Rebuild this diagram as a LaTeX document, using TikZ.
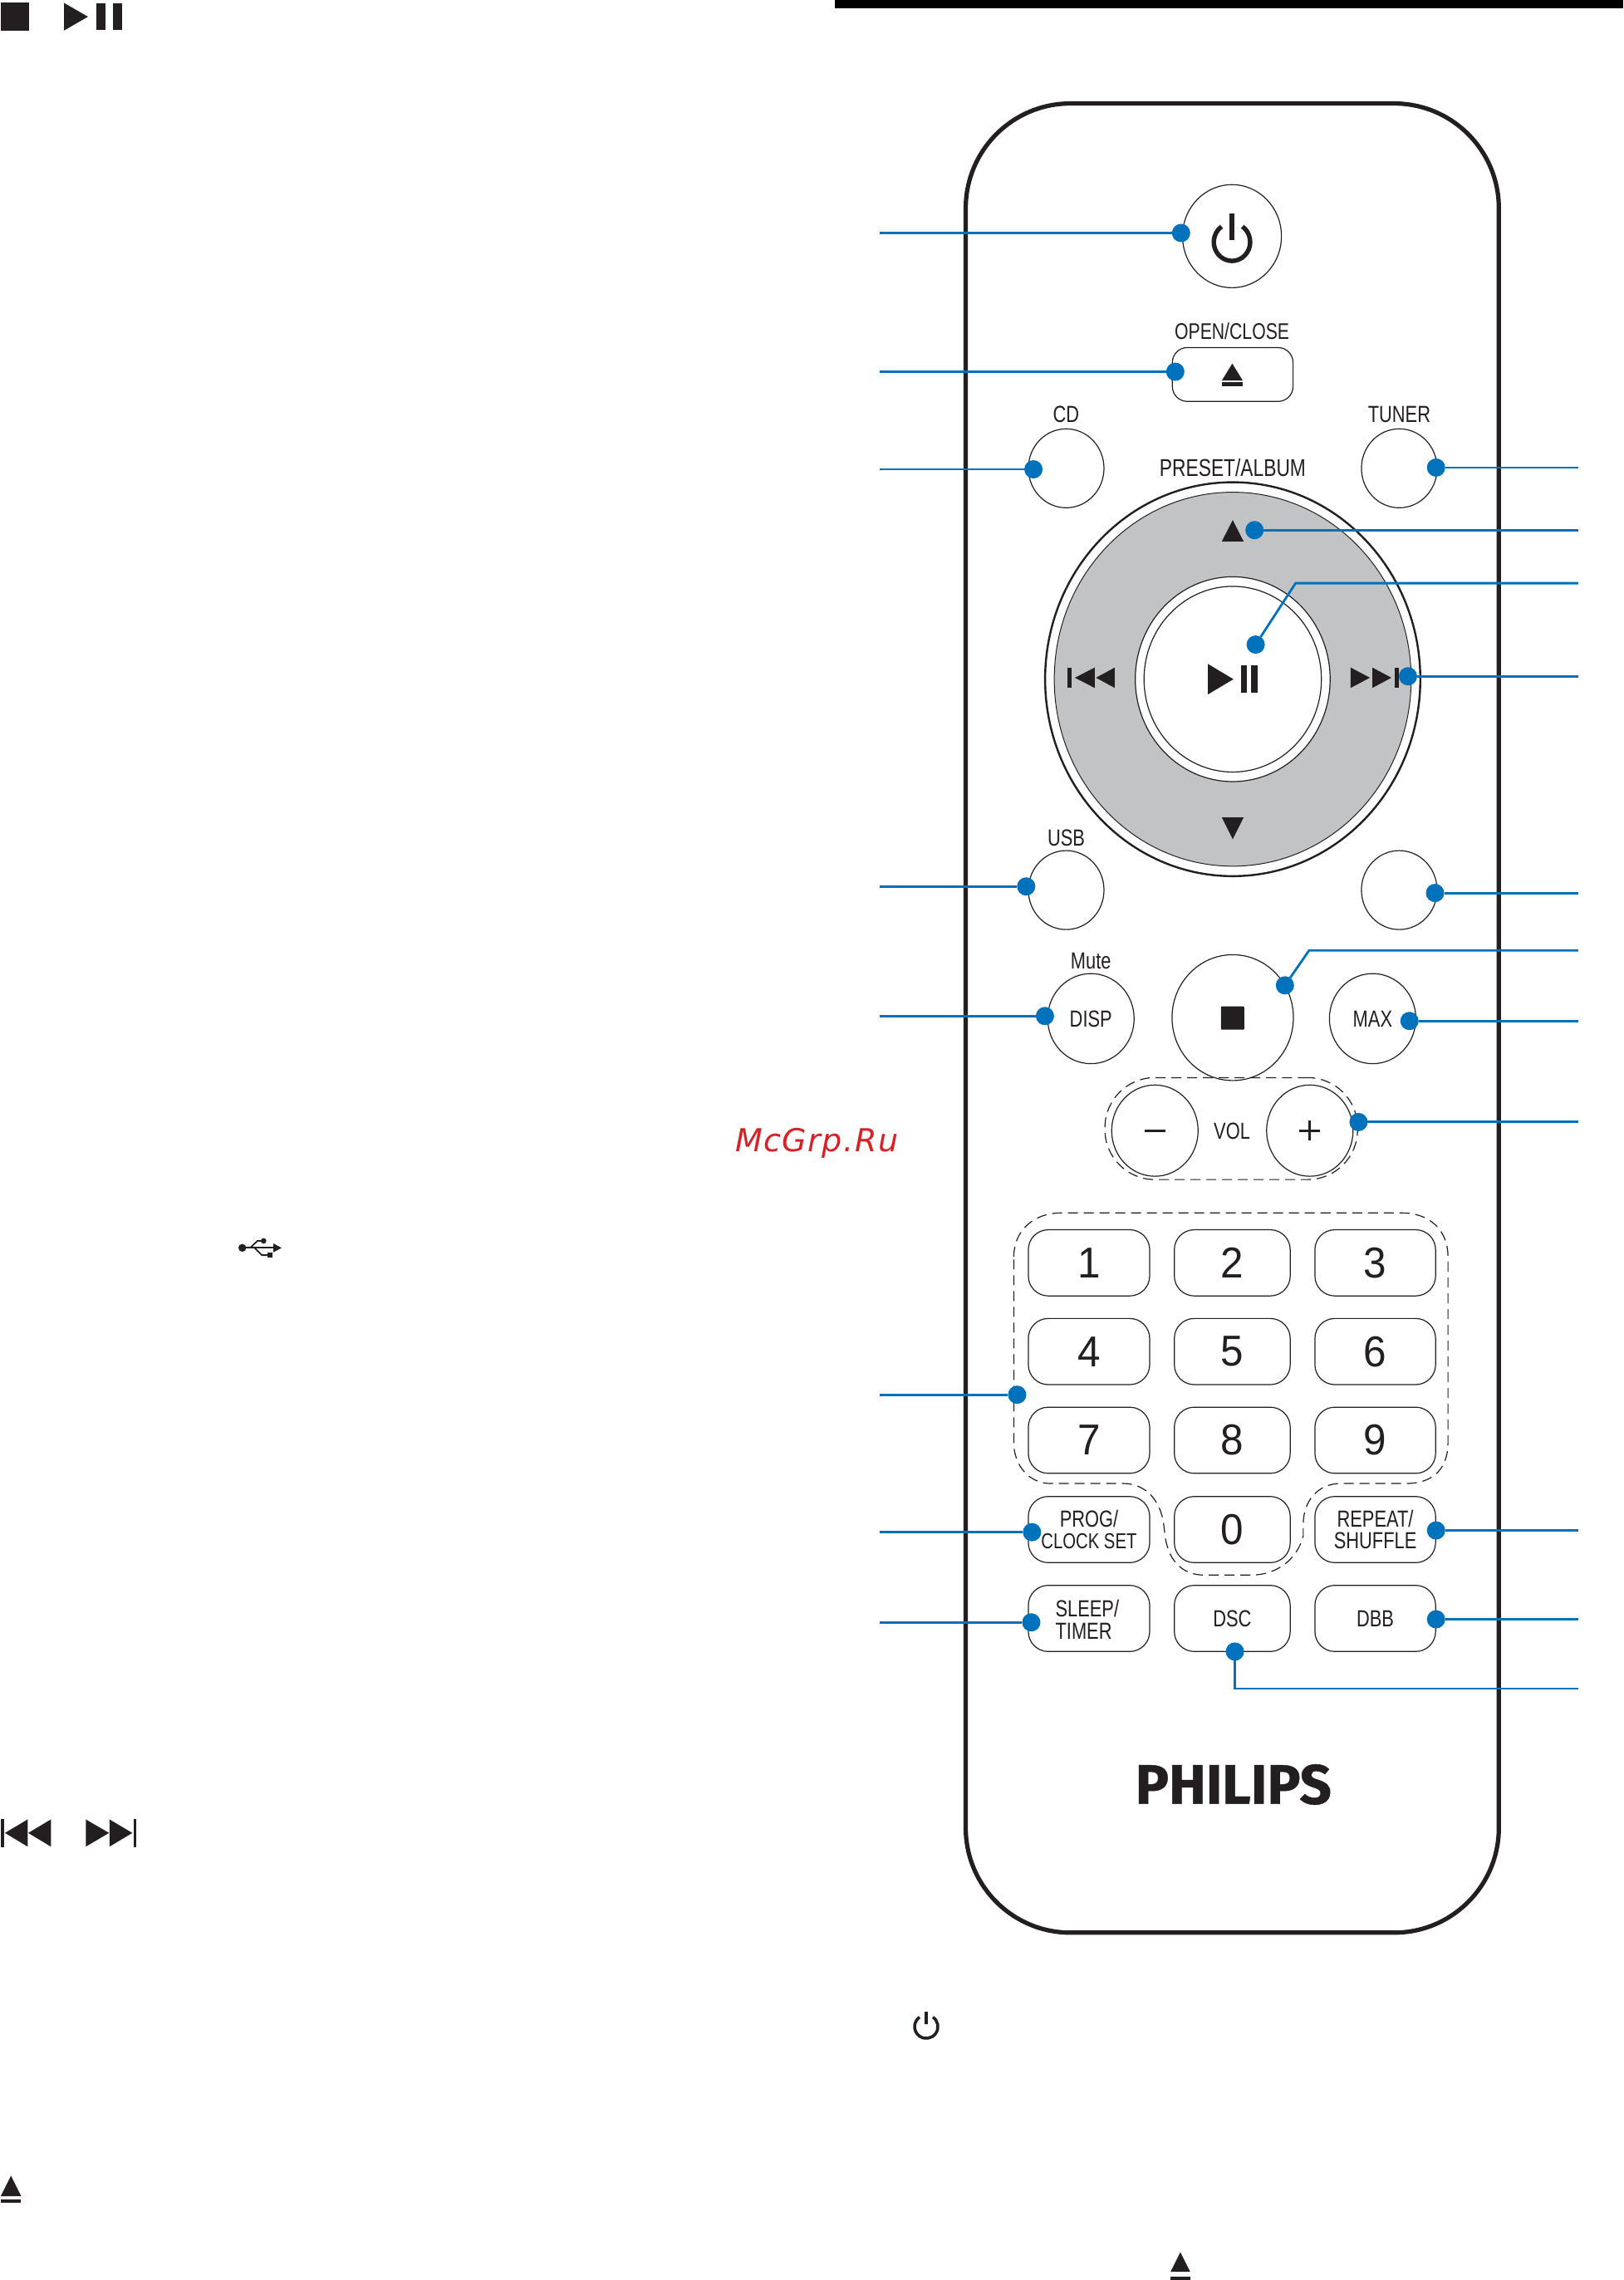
\documentclass[tikz,border=0pt]{standalone}
\usepackage{fontspec}
\usetikzlibrary{shapes.geometric}
\setmainfont[FakeStretch=0.78]{Liberation Sans}
\newfontfamily\digitfont[FakeStretch=0.95]{Liberation Sans}
\newfontfamily\brandfont[BoldFeatures={FakeBold=0.7}]{Fira Sans}
\newfontfamily\markfont[LetterSpace=4]{DejaVu Sans}
\definecolor{ink}{HTML}{231F20}
\definecolor{leadblue}{HTML}{0072BC}
\definecolor{dialgrey}{HTML}{C1C3C5}
\definecolor{markred}{HTML}{D92027}
\tikzset{
  lbl/.style={inner sep=0pt,outer sep=0pt,text=ink,font=\fontsize{14}{14}\selectfont,align=center},
  digit/.style={text=ink,font=\digitfont\fontsize{26}{26}\selectfont},
  rbtn/.style={draw=ink,line width=.6pt,fill=white,rounded corners=12pt,minimum height=39.8pt,inner sep=0pt,outer sep=0pt,text=ink,font=\fontsize{14}{13.3}\selectfont,align=center},
  cbtn/.style={draw=ink,line width=.6pt,fill=white,ellipse,inner sep=0pt,outer sep=0pt,text=ink,font=\fontsize{14}{14}\selectfont},
  dashline/.style={draw=ink,line width=.6pt,dash pattern=on 6pt off 3.5pt},
  bdot/.style={circle,fill=leadblue,minimum size=11pt,inner sep=0pt,outer sep=0pt},
  lead/.style={draw=leadblue,line width=1.4pt},
  icon/.style={fill=ink,draw=none}
}
\begin{document}
\begin{tikzpicture}[x=.875pt,y=-.875pt]
\useasboundingbox (0,0) rectangle (1116,1567.7);

\fill[black] (574,0) rectangle (1116,6);

% symbols beside the remote
\fill[icon] (.6,2) rectangle (20,21);
\fill[icon] (44,2)--(60.5,11.5)--(44,21)--cycle;
\fill[icon] (66,2.3) rectangle (72.7,20.5);
\fill[icon] (77.7,2.3) rectangle (84,20.5);

\fill[icon] (.6,1250.7) rectangle (2.9,1270);
\fill[icon] (19,1251)--(3.4,1260.3)--(19,1269.7)--cycle;
\fill[icon] (35,1251)--(19.4,1260.3)--(35,1269.7)--cycle;
\fill[icon] (59,1251)--(75,1260.3)--(59,1269.7)--cycle;
\fill[icon] (75.3,1251)--(91,1260.3)--(75.3,1269.7)--cycle;
\fill[icon] (92,1250.7) rectangle (93.7,1270);

\fill[icon] (166.6,858) circle (2.7);
\draw[ink,line width=.9pt,line join=round] (166.6,858)--(189,858);
\fill[icon] (193.6,858)--(188,855)--(188,861)--cycle;
\draw[ink,line width=.9pt] (172,858)--(177,853.2)--(181,853.2);
\fill[icon] (181.2,853.2) circle (1.9);
\draw[ink,line width=.9pt] (175,858)--(180,863)--(185,863);
\fill[icon] (184,861.3) rectangle (187.4,864.7);

\draw[ink,line width=1.8pt] (636.8,1393.5)+(-55:8) arc[start angle=-55,end angle=235,radius=8];
\draw[ink,line width=1.8pt] (636.8,1383)--(636.8,1392);

\fill[icon] (7.5,1496)--(14.5,1510)--(.5,1510)--cycle;
\fill[icon] (.5,1512) rectangle (14.5,1514.5);

\fill[icon] (811.5,1548.6)--(818.2,1562)--(804.8,1562)--cycle;
\fill[icon] (804.8,1565.4) rectangle (818.2,1567.7);

\node[inner sep=0pt,text=markred,font=\markfont\itshape\fontsize{19}{19}\selectfont] (mark) at (561.5,786) {McGrp.Ru};

% remote
\node[draw=ink,line width=2.6pt,fill=white,rounded corners=63pt,minimum width=320.7pt,minimum height=1100.5pt,inner sep=0pt] (body) at (847.2,700) {};

\node[cbtn,minimum width=59.5pt,minimum height=62pt] (power) at (847,162.4) {};
\draw[ink,line width=2.7pt] (847,166)+(-55:12.5) arc[start angle=-55,end angle=235,x radius=12.5,y radius=13];
\draw[ink,line width=2.7pt] (847,147)--(847,165);

\node[lbl,font=\fontsize{13.6}{13.6}\selectfont] (openlbl) at (847,228) {OPEN/CLOSE};
\node[rbtn,minimum width=72.6pt,minimum height=32.4pt,rounded corners=9pt] (eject) at (847.5,257.5) {};
\fill[icon] (847.2,250)--(854.4,261.7)--(840,261.7)--cycle;
\fill[icon] (840,262.7) rectangle (854.4,265.6);

\node[lbl] (cdlbl) at (733,285) {CD};
\node[lbl] (tunerlbl) at (962,285) {TUNER};
\node[lbl,font=\fontsize{14.6}{14.6}\selectfont] (presetlbl) at (847.5,321.5) {PRESET/ALBUM};
\node[cbtn,minimum width=45.5pt,minimum height=47.5pt] (cd) at (733,322) {};
\node[cbtn,minimum width=45.5pt,minimum height=47.5pt] (tuner) at (962,322) {};

\node[ellipse,draw=ink,line width=1.2pt,fill=white,minimum width=225.7pt,minimum height=237pt,inner sep=0pt] (dialout) at (847.5,467) {};
\node[ellipse,draw=ink,line width=.5pt,fill=dialgrey,minimum width=214.7pt,minimum height=225pt,inner sep=0pt] (dial) at (847.5,467) {};
\node[ellipse,draw=ink,line width=.6pt,fill=white,minimum width=117.2pt,minimum height=123.2pt,inner sep=0pt] (ringout) at (847.5,467) {};
\node[ellipse,draw=ink,line width=.6pt,fill=white,minimum width=106.7pt,minimum height=111.7pt,inner sep=0pt] (ringin) at (847.5,467) {};

\fill[icon] (847.5,357.6)--(855,372.3)--(840,372.3)--cycle;
\fill[icon] (847.5,577)--(855,562)--(840,562)--cycle;
\fill[icon] (733.7,459) rectangle (736.5,473);
\fill[icon] (752.6,459)--(739,466)--(752.6,473)--cycle;
\fill[icon] (766.4,459)--(753.5,466)--(766.4,473)--cycle;
\fill[icon] (928.6,459)--(941.8,466)--(928.6,473)--cycle;
\fill[icon] (943.5,459)--(956.6,466)--(943.5,473)--cycle;
\fill[icon] (958.6,459) rectangle (961.7,473);
\fill[icon] (830.4,456.5)--(848,467)--(830.4,477.5)--cycle;
\fill[icon] (853.5,457.5) rectangle (857,476.5);
\fill[icon] (860,457.5) rectangle (864.5,476.5);

\node[lbl] (usblbl) at (733,576) {USB};
\node[cbtn,minimum width=45.5pt,minimum height=47.5pt] (usb) at (733,612) {};
\node[cbtn,minimum width=45.5pt,minimum height=47.5pt] (blank) at (962,612) {};

\node[lbl] (mutelbl) at (750,661) {Mute};
\node[cbtn,minimum width=52pt,minimum height=54.2pt] (disp) at (750,700.4) {DISP};
\node[cbtn,minimum width=73pt,minimum height=75.7pt] (stopbtn) at (847.5,699.7) {};
\fill[icon,rounded corners=.5pt] (839.4,692) rectangle (855.4,708);
\node[cbtn,minimum width=52pt,minimum height=54.2pt] (max) at (943.7,700.4) {MAX};

\node[dashline,rounded corners=30pt,minimum width=152pt,minimum height=61.3pt,inner sep=0pt] (volbox) at (846.5,776) {};
\node[cbtn,minimum width=52pt,minimum height=54.9pt] (volm) at (794,777.4) {};
\node[cbtn,minimum width=52pt,minimum height=54.9pt] (volp) at (900.5,777.4) {};
\draw[ink,line width=1.3pt] (787,777.4)--(801,777.4);
\draw[ink,line width=1.3pt] (893.4,777.4)--(907.5,777.4);
\draw[ink,line width=1.3pt] (900.5,770.4)--(900.5,784.4);
\node[lbl] (vollbl) at (847,778) {VOL};

\draw[dashline] (697,864) .. controls (697,846) and (711,834) .. (729,834) -- (964,834)
  .. controls (983,834) and (995.5,846) .. (995.5,864) -- (995.5,992)
  .. controls (995.5,1010) and (985,1020) .. (967,1020) -- (922,1020)
  .. controls (906,1020) and (896,1032) .. (896,1048) -- (896,1056)
  .. controls (892,1072) and (878,1083) .. (860,1083) -- (828,1083)
  .. controls (812,1083) and (803,1072) .. (801,1056) -- (800,1048)
  .. controls (798,1032) and (788,1020) .. (772,1020) -- (722,1020)
  .. controls (708,1020) and (697,1008) .. (697,992) -- cycle;

\node[rbtn,minimum width=73pt,digit] (k1) at (748.7,868.3) {1};
\node[rbtn,minimum width=69.7pt,digit] (k2) at (847.2,868.3) {2};
\node[rbtn,minimum width=72.6pt,digit] (k3) at (945.5,868.3) {3};
\node[rbtn,minimum width=73pt,digit] (k4) at (748.7,929.3) {4};
\node[rbtn,minimum width=69.7pt,digit] (k5) at (847.2,929.3) {5};
\node[rbtn,minimum width=72.6pt,digit] (k6) at (945.5,929.3) {6};
\node[rbtn,minimum width=73pt,digit] (k7) at (748.7,990.3) {7};
\node[rbtn,minimum width=69.7pt,digit] (k8) at (847.2,990.3) {8};
\node[rbtn,minimum width=72.6pt,digit] (k9) at (945.5,990.3) {9};
\node[rbtn,minimum width=73pt] (prog) at (748.7,1051.7) {PROG/\\\fontsize{13}{13.3}\selectfont CLOCK SET};
\node[rbtn,minimum width=69.7pt,digit] (k0) at (847.2,1051.7) {0};
\node[rbtn,minimum width=72.6pt] (repeat) at (945.5,1051.7) {REPEAT/\\SHUFFLE};
\node[rbtn,minimum width=73pt] (sleep) at (748.7,1112.8) {};
\node[lbl,align=left,font=\fontsize{14}{13.3}\selectfont] (sleeptxt) at (747.5,1113.5) {SLEEP/\\TIMER};
\node[rbtn,minimum width=69.7pt] (dsc) at (847.2,1112.8) {DSC};
\node[rbtn,minimum width=72.6pt] (dbb) at (945.5,1112.8) {DBB};

\node[inner sep=0pt,text=ink,font=\brandfont\bfseries\fontsize{33.5}{33.5}\selectfont] (brand) at (848,1227) {PHILIPS};

% leaders, left side
\coordinate (lpower) at (605,160.2);
\coordinate (leject) at (605,255.6);
\coordinate (lcd) at (605,322.7);
\coordinate (lusb) at (605,609.5);
\coordinate (ldisp) at (605,698.6);
\coordinate (lkeys) at (605,959);
\coordinate (lprog) at (605,1053.5);
\coordinate (lsleep) at (605,1115.5);
\node[bdot] (dpower) at (812,160.2) {};
\node[bdot] (deject) at (808,255.6) {};
\node[bdot] (dcd) at (710.5,322.7) {};
\node[bdot] (dusb) at (705.5,609.5) {};
\node[bdot] (ddisp) at (718.4,698.6) {};
\node[bdot] (dkeys) at (699.3,959) {};
\node[bdot] (dprog) at (709.5,1053.5) {};
\node[bdot] (dsleep) at (709,1115.5) {};
\draw[lead] (lpower)--(dpower);
\draw[lead] (leject)--(deject);
\draw[lead] (lcd)--(dcd);
\draw[lead] (lusb)--(dusb);
\draw[lead] (ldisp)--(ddisp);
\draw[lead] (lkeys)--(dkeys);
\draw[lead] (lprog)--(dprog);
\draw[lead] (lsleep)--(dsleep);

% leaders, right side
\coordinate (rtuner) at (1085,321.5);
\coordinate (rup) at (1085,364.5);
\coordinate (rplay) at (1085,401);
\coordinate (cplay) at (890.7,401);
\coordinate (rnext) at (1085,465);
\coordinate (rblank) at (1085,614);
\coordinate (rstop) at (1085,653.5);
\coordinate (cstop) at (900,653.5);
\coordinate (rmax) at (1085,702);
\coordinate (rvol) at (1085,771.5);
\coordinate (rrepeat) at (1085,1052.3);
\coordinate (rdbb) at (1085,1113.4);
\coordinate (rdsc) at (1085,1161);
\coordinate (cdsc) at (849,1161);
\node[bdot] (dtuner) at (987.3,321.5) {};
\node[bdot] (dup) at (862.5,364.5) {};
\node[bdot] (dplay) at (863.3,443.2) {};
\node[bdot] (dnext) at (968,465) {};
\node[bdot] (dblank) at (986.6,614) {};
\node[bdot] (dstop) at (883.4,677.5) {};
\node[bdot] (dmax) at (969,702) {};
\node[bdot] (dvol) at (934,771.5) {};
\node[bdot] (drepeat) at (987.3,1052.3) {};
\node[bdot] (ddbb) at (987.3,1113.4) {};
\node[bdot] (ddsc) at (849,1135.6) {};
\draw[lead] (rtuner)--(dtuner);
\draw[lead] (rup)--(dup);
\draw[lead] (rplay)--(cplay)--(dplay);
\draw[lead] (rnext)--(dnext);
\draw[lead] (rblank)--(dblank);
\draw[lead] (rstop)--(cstop)--(dstop);
\draw[lead] (rmax)--(dmax);
\draw[lead] (rvol)--(dvol);
\draw[lead] (rrepeat)--(drepeat);
\draw[lead] (rdbb)--(ddbb);
\draw[lead] (rdsc)--(cdsc)--(ddsc);

\end{tikzpicture}
\end{document}
